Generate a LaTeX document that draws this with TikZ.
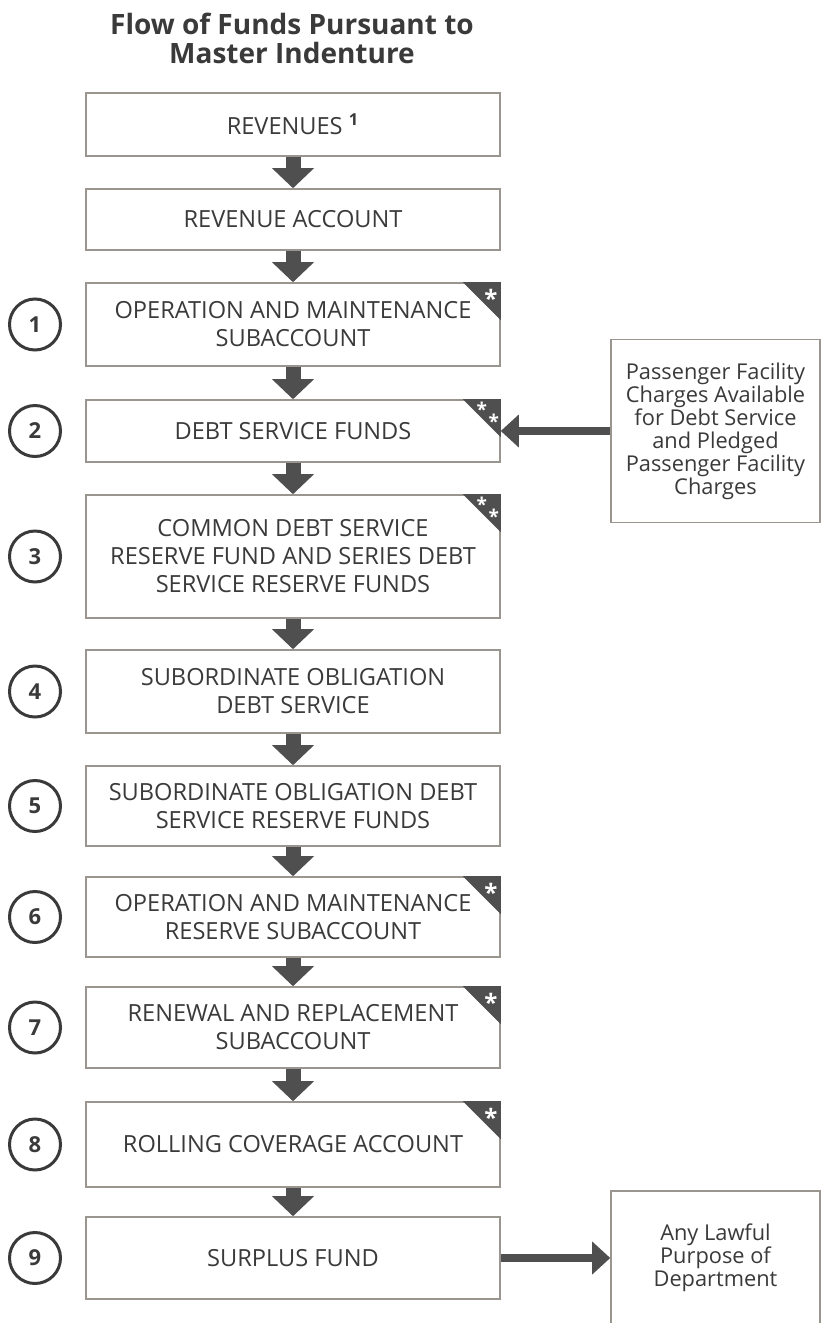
\documentclass[tikz,border=0pt]{standalone}
\usepackage{fontspec}
\setmainfont{Open Sans}
\usetikzlibrary{arrows.meta,positioning,calc}

\definecolor{boxline}{HTML}{9B9590}
\definecolor{arrowgray}{HTML}{4F4F4F}
\definecolor{txtgray}{HTML}{3A3A3A}

\tikzset{
  acct/.style={draw=boxline, line width=0.8pt, fill=white, minimum width=207pt,
    align=center, text=txtgray, inner sep=2pt, font=\fontsize{11.8}{14}\selectfont},
  side/.style={acct, minimum width=104.5pt, font=\fontsize{10.9}{11.5}\selectfont},
  num/.style={circle, draw=txtgray, line width=1.5pt, minimum size=25.5pt, inner sep=0pt,
    text=txtgray, font=\bfseries\fontsize{11}{12}\selectfont},
  title/.style={align=center, text=txtgray, font=\bfseries\fontsize{14}{14.5}\selectfont},
  down/.style={line width=7.5pt, arrowgray, -{Triangle[length=10pt,width=21pt,line width=0pt]}},
  across/.style={line width=4pt, arrowgray, -{Triangle[length=9pt,width=16.5pt,line width=0pt]}},
  asterisk/.style={text=white, inner sep=0pt, yshift=-3pt, font=\bfseries\fontsize{12}{12}\selectfont},
  asterisk2/.style={asterisk, yshift=0.5pt, font=\bfseries\fontsize{9.5}{9.5}\selectfont},
}

% dark corner flag on a box
\newcommand{\flag}[1]{\fill[arrowgray] (#1.north east) -- ++(-38,0) -- ++(38,38) -- cycle;}

\begin{document}
\begin{tikzpicture}[x=0.5pt,y=-0.5pt]
  \useasboundingbox (0,0) rectangle (823,1323);

  % Title
  \node[title] (ttl) at (292,38) {Flow of Funds Pursuant to\\Master Indenture};

  % Accounts
  \node[acct, minimum height=31.5pt] (rev)   at (293,124.5) {REVENUES \textsuperscript{\bfseries 1}};
  \node[acct, minimum height=30.5pt] (racc)  at (293,219.5) {REVENUE ACCOUNT};
  \node[acct, minimum height=41.5pt] (om)    at (293,324.5) {OPERATION AND MAINTENANCE\\SUBACCOUNT};
  \node[acct, minimum height=31pt]   (dsf)   at (293,431)   {DEBT SERVICE FUNDS};
  \node[acct, minimum height=61.5pt] (cdsr)  at (293,556.5) {COMMON DEBT SERVICE\\RESERVE FUND AND SERIES DEBT\\SERVICE RESERVE FUNDS};
  \node[acct, minimum height=41.5pt] (sods)  at (293,691.5) {SUBORDINATE OBLIGATION\\DEBT SERVICE};
  \node[acct, minimum height=40pt]   (sodsr) at (293,806)   {SUBORDINATE OBLIGATION DEBT\\SERVICE RESERVE FUNDS};
  \node[acct, minimum height=40pt]   (omr)   at (293,917)   {OPERATION AND MAINTENANCE\\RESERVE SUBACCOUNT};
  \node[acct, minimum height=40.5pt] (rr)    at (293,1027.5) {RENEWAL AND REPLACEMENT\\SUBACCOUNT};
  \node[acct, minimum height=42.5pt] (rca)   at (293,1144.5) {ROLLING COVERAGE ACCOUNT};
  \node[acct, minimum height=41pt]   (sf)    at (293,1258)  {SURPLUS FUND};

  % Priority numbers
  \node[num, left=11.6pt of om]    (n1) {1};
  \node[num, left=11.6pt of dsf]   (n2) {2};
  \node[num, left=11.6pt of cdsr]  (n3) {3};
  \node[num, left=11.6pt of sods]  (n4) {4};
  \node[num, left=11.6pt of sodsr] (n5) {5};
  \node[num, left=11.6pt of omr]   (n6) {6};
  \node[num, left=11.6pt of rr]    (n7) {7};
  \node[num, left=11.6pt of rca]   (n8) {8};
  \node[num, left=11.6pt of sf]    (n9) {9};

  % Side boxes
  \node[side, minimum height=91.5pt, right=54.7pt of dsf] (pfc)
    {Passenger Facility\\Charges Available\\for Debt Service\\and Pledged\\Passenger Facility\\Charges};
  \node[side, minimum height=67pt, right=54.7pt of sf] (alp)
    {Any Lawful\\Purpose of\\Department};

  % Flow
  \draw[down] (rev) -- (racc);
  \draw[down] (racc) -- (om);
  \draw[down] (om) -- (dsf);
  \draw[down] (dsf) -- (cdsr);
  \draw[down] (cdsr) -- (sods);
  \draw[down] (sods) -- (sodsr);
  \draw[down] (sodsr) -- (omr);
  \draw[down] (omr) -- (rr);
  \draw[down] (rr) -- (rca);
  \draw[down] (rca) -- (sf);
  \draw[across] (pfc) -- (dsf);
  \draw[across] (sf) -- (alp);

  % Corner flags
  \flag{om}  \node[asterisk] at ($(om.north east)+(-10,10)$) {*};
  \flag{dsf} \node[asterisk2] at ($(dsf.north east)+(-19,5)$) {*};
             \node[asterisk2] at ($(dsf.north east)+(-7,17)$) {*};
  \flag{cdsr} \node[asterisk2] at ($(cdsr.north east)+(-19,5)$) {*};
              \node[asterisk2] at ($(cdsr.north east)+(-7,17)$) {*};
  \flag{omr} \node[asterisk] at ($(omr.north east)+(-10,10)$) {*};
  \flag{rr}  \node[asterisk] at ($(rr.north east)+(-10,10)$) {*};
  \flag{rca} \node[asterisk] at ($(rca.north east)+(-10,10)$) {*};
\end{tikzpicture}
\end{document}
